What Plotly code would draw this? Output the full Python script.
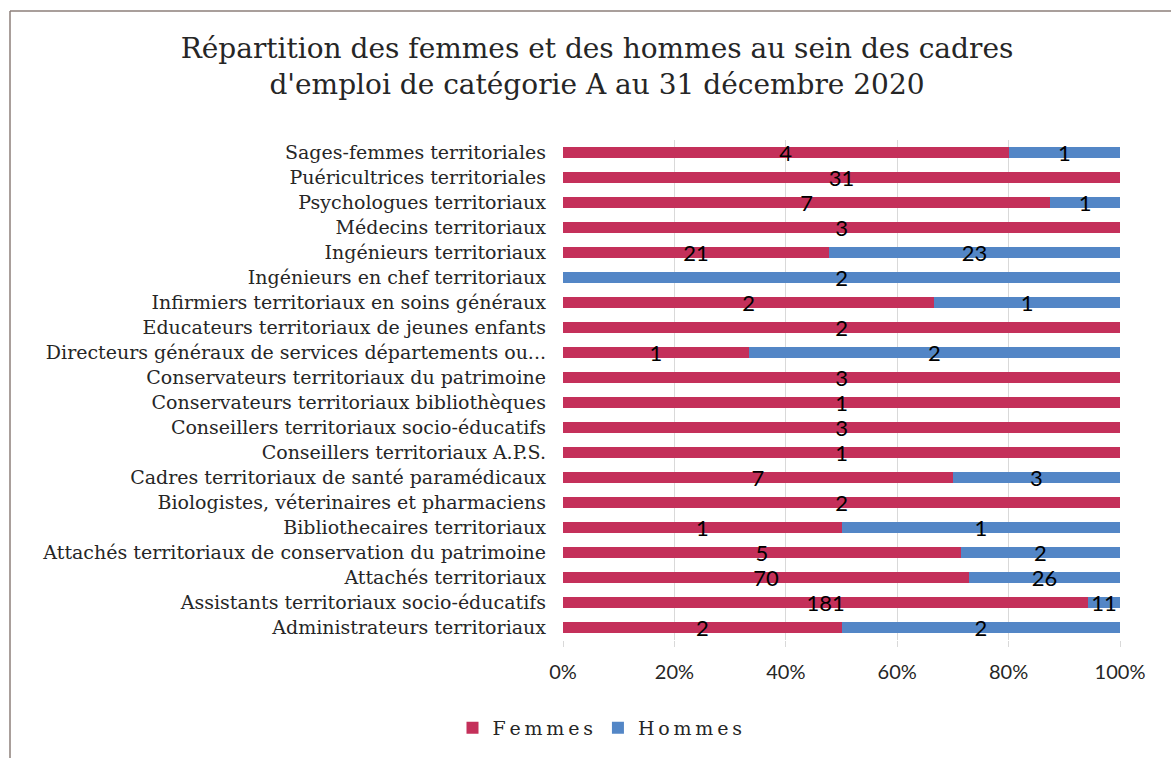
import plotly.graph_objects as go

categories = [
    "Administrateurs territoriaux",
    "Assistants territoriaux socio-éducatifs",
    "Attachés territoriaux",
    "Attachés territoriaux de conservation du patrimoine",
    "Bibliothecaires territoriaux",
    "Biologistes, véterinaires et pharmaciens",
    "Cadres territoriaux de santé paramédicaux",
    "Conseillers territoriaux A.P.S.",
    "Conseillers territoriaux socio-éducatifs",
    "Conservateurs territoriaux bibliothèques",
    "Conservateurs territoriaux du patrimoine",
    "Directeurs généraux de services départements ou...",
    "Educateurs territoriaux de jeunes enfants",
    "Infirmiers territoriaux en soins généraux",
    "Ingénieurs en chef territoriaux",
    "Ingénieurs territoriaux",
    "Médecins territoriaux",
    "Psychologues territoriaux",
    "Puéricultrices territoriales",
    "Sages-femmes territoriales",
]
femmes = [2, 181, 70, 5, 1, 2, 7, 1, 3, 1, 3, 1, 2, 2, 0, 21, 3, 7, 31, 4]
hommes = [2, 11, 26, 2, 1, 0, 3, 0, 0, 0, 0, 2, 0, 1, 2, 23, 0, 1, 0, 1]
x_ticks = [0, 20, 40, 60, 80, 100]
x_tick_labels = ["0%", "20%", "40%", "60%", "80%", "100%"]

title = "Répartition des femmes et des hommes au sein des cadres<br>d'emploi de catégorie A au 31 décembre 2020"

C_F = "#C4305A"
C_H = "#5386C6"
SERIF = "DejaVu Serif"
SANS = "Lato"

def spaced(s):
    return "\u2009".join(s)

def lbl(vals):
    return [str(v) if v else "" for v in vals]

fig = go.Figure()
for name, vals, col in [("Femmes", femmes, C_F), ("Hommes", hommes, C_H)]:
    fig.add_trace(go.Bar(
        y=categories, x=vals, name=spaced(name), orientation="h",
        marker=dict(color=col, line=dict(width=0)),
        text=lbl(vals), textposition="inside", insidetextanchor="middle",
        constraintext="none", textangle=0,
        textfont=dict(family=SANS, size=22, color="black"),
    ))

W, H = 1171, 758
ml, mr, mt, mb = 563, 51, 140, 118
pw, ph = W - ml - mr, H - mt - mb

fig.update_layout(
    width=W, height=H,
    barmode="stack", barnorm="percent", bargap=0.55,
    paper_bgcolor="white", plot_bgcolor="white",
    margin=dict(l=ml, r=mr, t=mt, b=mb, autoexpand=False),
    title=dict(text=title, x=597 / W, xanchor="center", xref="container",
               y=1 - 58 / H, yanchor="middle", yref="container",
               font=dict(family=SERIF, size=28, color="#262626")),
    showlegend=True,
    legend=dict(orientation="h", x=600 / W, xref="container", xanchor="center",
                y=1 - 728 / H, yref="container", yanchor="middle",
                font=dict(family=SERIF, size=19, color="#262626"),
                traceorder="normal", itemwidth=30),
    xaxis=dict(range=[0, 100], tickvals=x_ticks, ticktext=x_tick_labels,
               showgrid=True, gridcolor="#D9D9D9", gridwidth=1,
               zeroline=False, showline=False,
               ticks="outside", ticklen=6, tickcolor="#D9D9D9",
               ticklabelstandoff=8,
               tickfont=dict(family=SANS, size=20, color="#262626")),
    yaxis=dict(showgrid=False, zeroline=False, showline=False,
               ticks="", ticklabelstandoff=16,
               tickfont=dict(family=SERIF, size=19, color="#262626")),
    shapes=[
        dict(type="line", xref="paper", yref="paper",
             x0=(10 - ml) / pw, x1=(W + 10 - ml) / pw,
             y0=(H - mb - 11) / ph, y1=(H - mb - 11) / ph,
             line=dict(color="#8C7F7A", width=1.5)),
        dict(type="line", xref="paper", yref="paper",
             x0=(10 - ml) / pw, x1=(10 - ml) / pw,
             y0=(H - mb - 11) / ph, y1=-(mb + 20) / ph,
             line=dict(color="#8C7F7A", width=1.5)),
    ],
)

fig.write_html("out.html", config={"displayModeBar": False},
               post_script="document.body.style.margin='0';document.body.style.overflow='hidden';")
